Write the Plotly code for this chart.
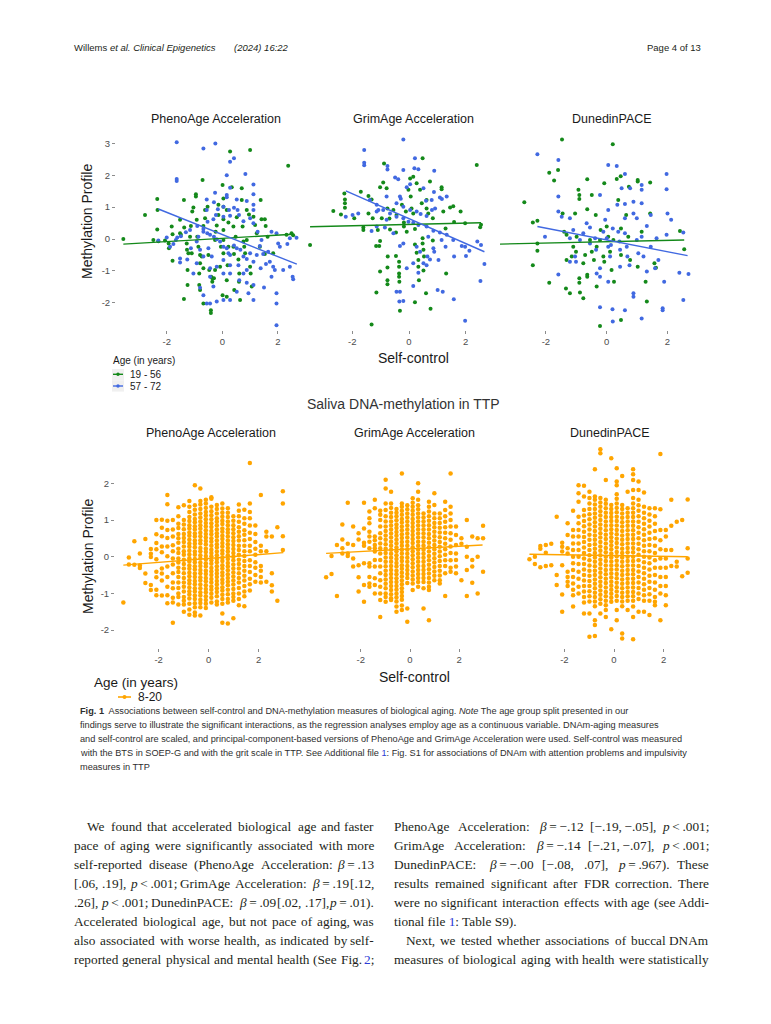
import re
import plotly.graph_objects as go

# page size in the screenshot and the browser's default body margin
PAGE_W, PAGE_H, OFF = 771, 1024, 8
W, H = PAGE_W - 2 * OFF, PAGE_H - 2 * OFF

# ---------------- DATA ----------------
panel_titles = ["PhenoAge Acceleration", "GrimAge Acceleration", "DunedinPACE"]
age_groups_top = ["19 - 56", "57 - 72"]
age_group_bottom = "8-20"
x_ticks = [-2, 0, 2]
y_ticks_top = [-2, -1, 0, 1, 2, 3]
y_ticks_bottom = [-2, -1, 0, 1, 2]

# SOEP-G, PhenoAge, (self-control, methylation)
pheno_young = [(-3.56,0.0),(-2.78,0.75),(-2.34,1.25),(-2.33,0.91),(-2.34,0.30),(-2.48,-0.03),(-2.30,-0.07),(-2.06,-0.05),(-1.93,-0.14),(-1.92,-0.29),(-1.82,0.39),(-1.79,0.15),(-1.79,-0.68),(-1.52,0.60),(-1.52,0.18),(-1.49,0.13),(-1.38,1.22),(-1.37,0.36),(-1.28,-0.14),(-1.27,-0.34),(-1.22,-0.45),(-1.25,-0.97),(-1.25,-1.44),(-1.38,-1.88),(-1.10,-0.45),(-1.16,0.07),(-1.13,0.41),(-1.08,0.86),(-1.04,0.99),(-0.95,1.40),(-0.95,1.33),(-0.92,0.60),(-0.90,0.07),(-0.86,-0.24),(-0.80,-0.50),(-0.80,-0.76),(-0.83,-1.08),(-0.83,-1.44),(-0.80,-1.60),(-0.74,-0.55),(-0.71,1.85),(-0.68,0.41),(-0.62,0.91),(-0.62,0.65),(-0.68,-0.92),(-0.68,-2.02),(-0.53,1.01),(-0.50,-0.50),(-0.47,-0.97),(-0.41,-2.23),(-0.41,-2.32),(-0.40,-1.18),(-0.36,-1.23),(-0.36,-1.34),(-0.30,-1.23),(-0.26,-0.97),(-0.26,-0.03),(-0.24,0.23),(-0.20,0.42),(-0.14,0.75),(-0.14,1.07),(-0.08,-0.87),(-0.05,-0.24),(0.01,1.69),(0.04,1.27),(0.04,1.01),(0.04,0.62),(0.04,0.28),(0.04,-0.03),(0.04,-0.45),(0.01,-1.76),(0.16,-1.81),(0.16,-1.29),(0.19,-0.82),(0.22,-0.24),(0.22,0.52),(0.16,0.91),(0.28,2.74),(0.34,1.62),(0.40,0.39),(0.40,-0.24),(0.42,-0.47),(0.43,-1.60),(0.48,0.07),(0.52,0.68),(0.58,-0.64),(0.60,-1.34),(0.61,-1.08),(0.64,-1.91),(0.70,1.22),(0.70,1.59),(0.73,0.39),(0.76,-0.08),(0.79,-0.24),(0.82,-0.45),(0.88,-0.03),(0.88,0.91),(1.0,2.79),(0.96,0.77),(1.0,-0.87),(1.02,-1.08),(1.06,-1.49),(1.12,0.70),(1.18,0.44),(1.24,0.18),(1.35,-0.24),(1.38,1.22),(1.41,0.62),(1.53,0.62),(1.56,0.41),(1.53,-0.47),(1.63,0.07),(1.83,-0.45),(2.31,0.13),(2.37,2.30),(2.49,0.18),(2.55,0.12)]
pheno_old = [(-2.3,-0.05),(-1.64,3.03),(-0.25,2.99),(-0.68,2.84),(0.28,2.42),(0.42,2.53),(0.83,2.04),(0.16,2.0),(-1.64,1.88),(-1.64,1.82),(0.28,1.61),(1.12,1.71),(0.16,1.38),(0.16,1.31),(0.52,1.24),(-0.26,1.45),(-0.56,1.24),(-0.30,1.15),(0.04,1.01),(-0.16,0.93),(0.24,0.91),(0.42,0.98),(0.55,0.91),(-0.56,0.91),(0.88,1.19),(1.12,1.40),(1.12,1.07),(1.12,0.91),(1.0,0.65),(0.76,0.56),(0.60,0.75),(0.28,0.73),(0.04,0.70),(-0.23,0.75),(-0.32,0.62),(-0.53,0.54),(-0.68,0.31),(-0.90,0.41),(-1.16,0.28),(-1.31,0.21),(-1.49,0.09),(-1.62,0.05),(-1.67,-0.03),(-1.76,-0.16),(-2.0,0.05),(-1.88,-0.24),(-1.52,-0.61),(-1.52,-0.74),(-1.26,-0.64),(-1.13,-0.29),(-0.92,-0.08),(-0.86,0.07),(-0.68,0.23),(-0.54,0.18),(-0.44,0.13),(-0.30,0.07),(-0.20,-0.01),(-0.08,-0.08),(0.04,-0.24),(0.16,-0.29),(0.22,-0.45),(0.28,-0.50),(0.42,-0.20),(0.52,-0.29),(0.65,-0.34),(0.76,-0.55),(0.88,-0.63),(1.0,-0.45),(1.12,-0.71),(1.24,-0.50),(1.35,-0.22),(1.47,-0.47),(1.57,-0.78),(1.71,-0.71),(1.83,-0.87),(1.89,-0.97),(1.95,0.18),(2.01,-0.14),(2.07,-0.24),(2.43,0.02),(2.67,0.04),(2.34,-0.16),(2.43,-0.87),(2.53,-1.18),(2.55,-1.26),(2.19,-0.97),(1.95,-1.70),(1.95,-2.02),(1.95,-2.70),(1.77,-1.18),(1.50,-1.52),(1.38,-0.92),(1.12,-1.44),(0.94,-1.70),(0.88,-1.37),(0.76,-1.08),(0.61,-1.29),(0.52,-1.65),(0.28,-1.91),(0.04,-1.91),(-0.20,-1.96),(-0.44,-2.02),(-0.56,-2.02),(-0.68,-1.76),(-0.80,-1.53),(-0.32,-1.49),(0.04,-1.08),(-0.20,-0.87),(-0.38,-0.55),(-0.50,-0.29),(-0.68,-0.55),(-0.80,-0.34),(-0.92,-0.76),(-1.04,-1.08),(-0.44,-1.18),(0.04,-0.66),(0.28,-0.82),(0.58,-0.82),(-0.44,-0.92),(1.12,-1.91),(0.28,-1.08),(0.88,-0.97),(1.77,0.23),(1.65,-0.40),(1.41,-0.03),(1.27,0.23),(1.12,0.49)]

grim_young = [(-3.49,-0.19),(-2.67,0.88),(-2.40,0.77),(-2.26,1.24),(-2.26,1.12),(-2.26,0.98),(-2.28,1.43),(-1.70,1.48),(-1.93,0.65),(-1.61,0.36),(-1.61,0.28),(-1.43,1.35),(-1.43,0.80),(-1.32,1.24),(-1.28,0.65),(-1.10,0.28),(-1.02,-0.06),(-1.05,-0.22),(-1.16,-0.22),(-0.88,2.37),(-1.02,1.62),(-0.91,1.77),(-0.79,1.59),(-0.76,0.96),(-0.69,0.64),(-0.67,0.30),(-0.75,-0.55),(-0.76,-0.89),(-0.76,-1.29),(-0.76,-1.42),(-1.02,-1.02),(-1.15,-1.68),(-1.32,-2.68),(-0.46,0.20),(-0.46,-0.53),(-0.35,-0.71),(-0.35,-0.87),(-0.35,-1.08),(-0.35,-1.18),(-0.34,-1.34),(-0.32,-2.25),(-0.25,1.07),(-0.18,0.52),(-0.18,0.39),(-0.08,0.23),(-0.02,1.54),(0.04,1.90),(0.06,1.33),(0.09,0.96),(0.15,0.80),(0.21,0.31),(0.21,-0.17),(0.27,-0.43),(0.33,-0.66),(0.33,-0.87),(0.35,-1.29),(0.21,-1.98),(0.48,2.53),(0.48,0.02),(0.48,-0.14),(0.51,-0.34),(0.53,-0.55),(0.51,-0.99),(0.60,-1.70),(0.62,1.22),(0.62,0.96),(0.68,0.80),(0.74,1.80),(0.84,0.65),(0.84,-0.05),(0.76,-2.19),(1.15,1.62),(1.15,1.56),(1.21,0.86),(1.29,0.33),(1.31,-1.08),(1.45,0.99),(1.56,1.03),(1.59,0.53),(1.82,0.86),(1.98,0.49),(2.39,2.32),(2.51,0.37),(2.54,0.45),(0.39,1.54),(0.27,1.75),(0.15,1.95),(0.45,1.12),(-0.11,0.86),(-0.44,0.75),(-0.96,0.65),(-0.55,0.91)]
grim_old = [(-2.23,0.7),(-0.2,3.12),(-1.58,2.79),(-1.58,2.39),(-1.58,2.31),(-0.76,2.29),(-0.76,2.18),(0.21,2.53),(0.19,2.22),(0.33,2.19),(0.89,2.14),(-0.2,2.16),(-0.49,1.93),(-0.38,1.87),(0.04,1.72),(-0.08,1.62),(0.51,1.59),(0.88,1.47),(1.09,1.30),(1.33,1.33),(1.16,1.25),(0.80,1.22),(0.60,1.20),(-0.32,1.33),(-0.29,1.26),(-0.79,1.33),(-1.14,1.07),(-1.38,1.22),(-0.91,0.91),(-1.14,0.86),(-1.08,0.91),(-1.99,0.75),(-1.79,0.80),(-0.44,1.12),(-0.2,1.01),(0.04,0.91),(0.27,0.86),(0.41,0.78),(0.62,0.72),(0.81,0.91),(0.92,0.96),(-0.67,0.80),(-0.44,0.70),(-0.2,0.65),(-0.02,0.54),(0.15,0.51),(0.33,0.44),(0.62,0.39),(0.86,0.26),(1.09,0.20),(1.33,0.13),(1.56,-0.03),(1.86,-0.22),(1.98,-0.24),(2.13,-0.37),(2.41,-0.08),(2.54,-0.19),(2.66,-0.78),(2.52,-1.32),(2.01,-0.53),(1.59,-0.55),(1.29,-0.24),(1.15,-0.03),(0.86,-0.29),(0.89,-0.40),(0.68,0.07),(0.65,-0.55),(0.74,-0.64),(0.51,-0.76),(0.62,-0.82),(0.33,-1.06),(-0.08,-0.92),(0.15,-0.76),(-0.32,-0.22),(-0.2,-0.14),(-0.44,-1.65),(-0.32,-1.65),(-0.34,-1.96),(-0.2,-1.94),(0.15,-1.47),(1.01,-1.60),(1.19,-1.65),(1.58,-1.89),(1.98,-2.56),(1.04,-0.66),(-0.79,0.60),(-0.55,0.18),(0.27,-0.24),(0.39,-0.40),(-1.14,0.39),(-1.32,0.25),(-0.85,0.36)]

dunedin_young = [(-3.53,-2.70),(-2.71,1.15),(-2.43,0.52),(-2.43,-0.82),(-2.28,0.57),(-2.28,-0.14),(-2.28,-0.37),(-1.89,2.08),(-1.73,1.83),(-1.60,2.16),(-1.47,3.12),(-1.89,-1.37),(-1.45,0.80),(-1.40,0.23),(-1.34,-1.55),(-1.21,-1.70),(-1.32,-0.66),(-1.15,-0.55),(-1.04,0.80),(-1.01,-0.40),(-0.93,1.54),(-0.90,1.38),(-0.90,1.25),(-0.90,-1.23),(-0.90,-1.37),(-0.88,-1.68),(-0.77,-1.86),(-0.77,-0.76),(-0.71,-0.50),(-0.64,1.87),(-0.64,0.93),(-0.64,-1.12),(-0.64,-1.18),(-0.49,1.38),(-0.49,-0.40),(-0.42,-0.66),(-0.36,0.75),(-0.33,-1.49),(-0.22,-2.73),(-0.20,0.28),(-0.08,1.75),(-0.11,-0.55),(-0.08,-0.71),(0.0,0.39),(0.05,0.07),(0.11,-0.40),(0.16,-0.97),(0.20,2.97),(0.24,-1.34),(0.33,1.88),(0.38,1.22),(0.46,1.97),(0.47,0.33),(0.47,-0.50),(0.47,-2.54),(0.64,0.75),(0.71,0.07),(0.73,1.64),(0.77,-0.66),(1.02,1.85),(1.02,1.80),(1.02,-0.87),(1.15,0.23),(1.28,-1.34),(1.32,-1.96),(1.43,1.77),(1.43,0.80),(1.57,-0.76),(1.62,-0.90),(2.41,0.25),(2.55,-0.32),(-1.32,0.13),(-1.10,-0.24),(-0.55,-0.03),(-0.22,-0.03),(0.22,-0.03),(-0.33,-0.24),(-0.99,0.07)]
dunedin_old = [(-2.28,2.66),(-1.59,2.48),(-1.59,1.33),(-1.59,0.86),(-1.59,-1.11),(-2.03,0.07),(-1.48,0.70),(-1.21,0.65),(-1.21,0.02),(-1.04,-0.55),(-1.01,-0.71),(-1.21,-0.71),(-0.77,0.18),(-0.66,0.49),(-0.55,0.36),(-0.38,0.02),(-0.35,-0.34),(-0.33,-1.08),(-0.22,1.38),(-0.22,-0.92),(-0.22,-1.18),(-0.22,-2.14),(-0.11,0.23),(-0.05,0.60),(0.0,0.02),(0.05,2.32),(0.05,0.91),(0.05,-0.24),(0.05,-1.34),(0.11,-0.55),(0.14,-0.19),(0.20,0.33),(0.19,-2.20),(0.20,-2.59),(0.33,2.29),(0.35,1.07),(0.38,0.23),(0.42,-0.08),(0.44,-0.87),(0.49,1.59),(0.60,2.04),(0.60,1.10),(0.60,0.65),(0.60,0.18),(0.66,-0.24),(0.68,-0.55),(0.75,-0.82),(0.60,-2.23),(0.77,1.59),(0.88,1.17),(0.88,0.80),(0.88,-1.70),(0.88,-1.81),(0.99,0.65),(0.99,-0.03),(1.04,-0.45),(1.15,1.69),(1.15,1.54),(1.15,1.12),(1.15,0.07),(1.15,-2.49),(1.21,-0.55),(1.32,-1.02),(1.45,0.75),(1.45,-0.24),(1.59,-0.92),(1.70,-0.66),(1.89,-1.34),(1.84,-2.17),(1.84,-2.23),(1.97,2.04),(1.97,1.56),(2.0,0.80),(2.12,0.60),(2.39,-1.06),(2.52,0.20),(2.52,-1.91),(2.69,-1.10),(1.97,0.13),(1.64,0.02),(1.32,0.41),(0.44,-0.34),(-0.55,-0.14),(-0.88,-0.03),(-1.10,0.28)]

# fitted regression lines (endpoints)
pheno_fit_young_x, pheno_fit_young_y = [-3.56, 2.55], [-0.16, 0.15]
pheno_fit_old_x, pheno_fit_old_y = [-2.30, 2.68], [0.94, -0.79]
grim_fit_young_x, grim_fit_young_y = [-3.49, 2.54], [0.385, 0.51]
grim_fit_old_x, grim_fit_old_y = [-2.23, 2.66], [1.51, -0.40]
dunedin_fit_young_x, dunedin_fit_young_y = [-3.53, 2.55], [-0.16, -0.03]
dunedin_fit_old_x, dunedin_fit_old_y = [-2.28, 2.66], [0.39, -0.52]

# TTP: discrete grit-scale levels (scaled) and methylation values per level
grit_levels = [-3.41, -3.19, -2.97, -2.75, -2.53, -2.31, -2.09, -1.87, -1.65, -1.43,
               -1.21, -0.99, -0.77, -0.55, -0.33, -0.11, 0.11, 0.33, 0.55, 0.77,
               0.99, 1.21, 1.43, 1.65, 1.87, 2.09, 2.31, 2.53, 2.75, 2.97]

ttp_pheno = [
 [-1.25],
 [-0.02, -0.21],
 [0.42, -0.22],
 [0.09, -0.24, -0.31],
 [0.48, -0.46, -0.72],
 [0.21, 0.08, -0.01, -0.77, -0.91],
 [1.0, 0.61, 0.37, 0.2, -0.07, -0.41, -0.56, -0.9, -1.05],
 [1.01, 0.79, 0.56, 0.28, 0.12, -0.32, -0.46, -0.65, -1.06],
 [1.68, 1.43, 0.98, 0.73, 0.51, 0.28, 0.01, -0.27, -0.55, -0.82, -1.05, -1.27],
 [1.0, 0.74, 0.55, 0.31, 0.15, -0.05, -0.21, -0.45, -0.7, -0.86, -1.12, -1.25, -1.8],
 [1.35, 1.1, 0.9, 0.78, 0.62, 0.5, 0.38, 0.22, 0.1, -0.05, -0.16, -0.3, -0.42, -0.55, -0.7, -0.85, -1.0, -1.1, -1.3],
 [1.4, 1.0, 0.88, 0.75, 0.62, 0.51, 0.4, 0.28, 0.15, 0.05, -0.08, -0.2, -0.32, -0.45, -0.58, -0.7, -0.82, -0.95, -1.1, -1.2, -1.3, -1.5],
 [1.52, 1.36, 1.22, 1.08, 0.97, 0.86, 0.77, 0.66, 0.57, 0.46, 0.36, 0.27, 0.16, 0.06, -0.04, -0.13, -0.24, -0.33, -0.44, -0.53, -0.64, -0.73, -0.84, -0.94, -1.03, -1.14, -1.28, -1.44, -1.58],
 [1.95, 1.4, 1.28, 1.15, 1.03, 0.94, 0.83, 0.74, 0.63, 0.55, 0.44, 0.35, 0.26, 0.14, 0.05, -0.06, -0.15, -0.26, -0.35, -0.46, -0.55, -0.66, -0.75, -0.86, -0.95, -1.06, -1.15, -1.27, -1.38, -1.52, -1.6],
 [1.86, 1.52, 1.42, 1.3, 1.18, 1.07, 0.96, 0.86, 0.76, 0.65, 0.56, 0.45, 0.36, 0.24, 0.15, 0.04, -0.05, -0.16, -0.25, -0.36, -0.45, -0.56, -0.65, -0.76, -0.86, -0.97, -1.06, -1.17, -1.26, -1.38, -1.6],
 [1.55, 1.45, 1.33, 1.22, 1.12, 1.02, 0.92, 0.82, 0.72, 0.62, 0.52, 0.43, 0.33, 0.22, 0.13, 0.02, -0.07, -0.18, -0.27, -0.38, -0.47, -0.58, -0.67, -0.78, -0.88, -0.97, -1.08, -1.18, -1.28, -1.4],
 [1.62, 1.58, 1.36, 1.24, 1.13, 1.02, 0.91, 0.81, 0.7, 0.61, 0.5, 0.41, 0.3, 0.19, 0.1, 0.01, -0.1, -0.19, -0.31, -0.4, -0.5, -0.61, -0.7, -0.81, -0.9, -1.01, -1.12, -1.25],
 [1.41, 1.3, 1.18, 1.05, 0.95, 0.85, 0.74, 0.64, 0.55, 0.44, 0.34, 0.25, 0.14, 0.04, -0.06, -0.15, -0.26, -0.36, -0.46, -0.55, -0.66, -0.76, -0.86, -0.96, -1.08, -1.22, -1.3],
 [1.45, 1.31, 1.2, 1.09, 0.98, 0.89, 0.77, 0.68, 0.57, 0.48, 0.37, 0.28, 0.17, 0.08, -0.03, -0.12, -0.23, -0.32, -0.43, -0.52, -0.63, -0.72, -0.83, -0.92, -1.04, -1.15, -1.28, -1.55, -1.8],
 [1.32, 1.2, 1.08, 0.96, 0.86, 0.75, 0.65, 0.55, 0.44, 0.34, 0.24, 0.14, 0.04, -0.06, -0.17, -0.27, -0.37, -0.48, -0.58, -0.68, -0.78, -0.9, -1.02, -1.15, -1.25, -1.82],
 [1.1, 0.98, 0.86, 0.75, 0.64, 0.53, 0.43, 0.32, 0.21, 0.1, 0.0, -0.1, -0.21, -0.32, -0.43, -0.54, -0.65, -0.76, -0.88, -1.0, -1.1, -1.2, -1.68],
 [1.42, 1.25, 1.1, 0.95, 0.8, 0.68, 0.56, 0.44, 0.3, 0.18, 0.05, -0.08, -0.2, -0.32, -0.45, -0.58, -0.7, -0.85, -1.0, -1.15, -1.32],
 [1.28, 1.05, 0.9, 0.72, 0.6, 0.45, 0.3, 0.15, 0.02, -0.12, -0.25, -0.38, -0.52, -0.65, -0.8, -0.95, -1.08, -1.35],
 [2.55, 1.45, 1.22, 1.05, 0.85, 0.65, 0.48, 0.3, 0.15, -0.1, -0.25, -0.42, -0.6, -0.75, -0.92],
 [0.85, 0.62, 0.4, 0.22, 0.05, -0.15, -0.3, -0.5, -0.68],
 [1.68, 0.3, 0.15, -0.25, -0.38, -0.55, -0.7],
 [0.68, 0.55, 0.15, -0.68],
 [0.55, -0.45, -0.78, -0.95],
 [0.8, -1.2],
 [1.78, 1.45, 0.56, 0.18],
]

ttp_grim = [
 [-0.56],
 [0.02, -0.47],
 [0.32, -1.07],
 [0.88, 0.47, 0.23, 0.09],
 [1.47, 0.35, 0.09, 0.02],
 [0.82, 0.32, -0.05, -0.27],
 [0.64, 0.47, -0.23, -0.56, -0.95],
 [1.47, 0.77, 0.38, 0.3, -0.18, -0.77, -1.23],
 [1.23, 1.05, 0.91, 0.68, 0.55, 0.41, 0.23, -0.18, -0.27, -0.55, -0.73, -0.82],
 [1.55, 1.32, 0.55, 0.45, 0.32, 0.23, 0.14, -0.09, -0.27, -0.59, -0.77, -1.0],
 [1.25, 1.14, 1.0, 0.82, 0.64, 0.5, 0.36, 0.23, 0.09, -0.09, -0.27, -0.45, -0.64, -0.82, -1.0, -1.18, -1.64],
 [2.1, 1.86, 1.45, 1.27, 1.1, 0.96, 0.82, 0.7, 0.58, 0.46, 0.34, 0.22, 0.1, -0.02, -0.14, -0.26, -0.38, -0.5, -0.62, -0.74, -0.86, -1.0, -1.1, -1.23],
 [1.77, 1.45, 1.33, 1.2, 1.08, 0.96, 0.85, 0.74, 0.63, 0.52, 0.41, 0.3, 0.19, 0.08, -0.03, -0.14, -0.25, -0.36, -0.47, -0.58, -0.69, -0.8, -0.91, -1.02, -1.13, -1.18],
 [1.3, 1.2, 1.1, 0.99, 0.88, 0.78, 0.67, 0.57, 0.46, 0.36, 0.25, 0.15, 0.04, -0.06, -0.17, -0.27, -0.38, -0.48, -0.59, -0.69, -0.8, -0.9, -1.01, -1.11, -1.22, -1.36, -1.5],
 [2.27, 1.45, 1.36, 1.25, 1.14, 1.03, 0.93, 0.82, 0.72, 0.61, 0.51, 0.4, 0.3, 0.19, 0.09, -0.02, -0.12, -0.23, -0.33, -0.44, -0.54, -0.65, -0.75, -0.86, -0.96, -1.07, -1.17, -1.33, -1.45],
 [1.4, 1.29, 1.18, 1.07, 0.96, 0.85, 0.74, 0.63, 0.52, 0.41, 0.3, 0.19, 0.08, -0.03, -0.14, -0.25, -0.36, -0.47, -0.58, -0.72, -1.41, -1.77],
 [1.59, 1.47, 1.36, 1.25, 1.14, 1.03, 0.92, 0.81, 0.7, 0.59, 0.48, 0.37, 0.26, 0.15, 0.04, -0.07, -0.18, -0.29, -0.4, -0.51, -0.62, -0.73, -0.91],
 [2.0, 1.77, 1.55, 1.4, 1.29, 1.18, 1.07, 0.96, 0.85, 0.74, 0.63, 0.52, 0.41, 0.3, 0.19, 0.08, -0.03, -0.14, -0.25, -0.36, -0.47, -0.58, -0.69, -0.82],
 [1.18, 1.07, 0.96, 0.85, 0.74, 0.63, 0.52, 0.41, 0.3, 0.19, 0.08, -0.03, -0.14, -0.25, -0.36, -0.47, -0.58, -0.69, -0.86, -1.41],
 [1.5, 1.36, 1.23, 1.1, 0.98, 0.86, 0.74, 0.62, 0.5, 0.38, 0.26, 0.14, 0.02, -0.1, -0.22, -0.34, -0.46, -0.58, -0.7, -0.82, -0.91, -1.73],
 [1.73, 1.41, 1.18, 1.05, 0.92, 0.8, 0.68, 0.56, 0.44, 0.32, 0.2, 0.08, -0.04, -0.16, -0.28, -0.4, -0.52, -0.64],
 [1.18, 1.05, 0.92, 0.79, 0.66, 0.53, 0.4, 0.27, 0.14, 0.01, -0.12, -0.25, -0.38, -0.51, -0.64, -0.73],
 [1.5, 1.27, 1.1, 0.95, 0.8, 0.65, 0.5, 0.35, 0.2, 0.05, -0.1, -0.25, -0.45, -1.07],
 [2.27, 1.36, 1.18, 1.0, 0.82, 0.64, 0.46, 0.28, 0.1, -0.1, -0.3, -0.41],
 [0.82, 0.59, 0.32, 0.09, -0.09, -0.27, -0.45],
 [0.5, 0.35, -0.64],
 [1.0, 0.27, 0.0, -0.36, -1.07],
 [0.55, -0.09, -0.27, -0.71],
 [0.5, 0.0, -1.0],
 [0.84, 0.5, -0.41],
]

ttp_dunedin = [
 [-0.07],
 [0.0, -0.2],
 [0.29, -0.29, 0.22],
 [0.32, 0.11, -0.25],
 [0.35, -0.23],
 [1.09, -0.5, -0.77],
 [0.38, 0.27, 0.14, -0.23, -1.03, -1.5],
 [0.91, 0.59, 0.23, 0.09, -0.41, -0.55, -0.68, -0.8],
 [1.25, 0.73, 0.55, 0.36, 0.18, 0.0, -0.18, -0.36, -0.55, -0.73, -0.9, -1.05, -1.36],
 [1.95, 1.73, 1.5, 1.09, 0.91, 0.73, 0.55, 0.36, 0.18, 0.0, -0.2, -0.41, -0.6, -0.82, -1.0],
 [1.93, 1.64, 1.27, 1.12, 0.97, 0.83, 0.68, 0.54, 0.4, 0.25, 0.1, -0.05, -0.2, -0.35, -0.5, -0.65, -0.8, -0.95, -1.1, -1.25, -1.55],
 [1.77, 1.6, 1.45, 1.3, 1.16, 1.02, 0.88, 0.74, 0.6, 0.46, 0.32, 0.18, 0.04, -0.1, -0.24, -0.38, -0.52, -0.66, -0.8, -0.94, -1.08, -1.22, -1.55, -2.18],
 [2.38, 1.64, 1.55, 1.42, 1.3, 1.18, 1.06, 0.94, 0.82, 0.7, 0.58, 0.46, 0.34, 0.22, 0.1, -0.02, -0.14, -0.26, -0.38, -0.5, -0.62, -0.74, -0.86, -0.98, -1.1, -1.22, -1.35, -1.73, -1.86, -2.16],
 [2.93, 2.82, 1.6, 1.48, 1.36, 1.24, 1.12, 1.0, 0.88, 0.76, 0.64, 0.52, 0.4, 0.28, 0.16, 0.04, -0.08, -0.2, -0.32, -0.44, -0.56, -0.68, -0.8, -0.92, -1.04, -1.16, -1.28, -1.55],
 [2.09, 1.55, 1.44, 1.32, 1.2, 1.08, 0.96, 0.84, 0.72, 0.6, 0.48, 0.36, 0.24, 0.12, 0.0, -0.12, -0.24, -0.36, -0.48, -0.6, -0.72, -0.84, -0.96, -1.08, -1.2, -1.32, -1.45, -1.64],
 [2.68, 1.41, 1.3, 1.19, 1.08, 0.97, 0.86, 0.75, 0.64, 0.53, 0.42, 0.31, 0.2, 0.09, -0.02, -0.13, -0.24, -0.35, -0.46, -0.57, -0.68, -0.79, -0.9, -1.01, -1.12, -1.23, -1.98],
 [2.41, 2.05, 1.95, 1.7, 1.58, 1.45, 1.33, 1.21, 1.09, 0.97, 0.85, 0.73, 0.61, 0.49, 0.37, 0.25, 0.13, 0.01, -0.11, -0.23, -0.35, -0.47, -0.59, -0.71, -0.83, -0.95, -1.07, -1.2, -1.45, -1.73],
 [2.2, 1.41, 1.3, 1.18, 1.06, 0.94, 0.82, 0.7, 0.58, 0.46, 0.34, 0.22, 0.1, -0.02, -0.14, -0.26, -0.38, -0.5, -0.62, -0.74, -0.86, -0.98, -1.1, -1.22, -1.35, -2.09, -2.23],
 [1.77, 1.32, 1.2, 1.08, 0.96, 0.84, 0.72, 0.6, 0.48, 0.36, 0.24, 0.12, 0.0, -0.12, -0.24, -0.36, -0.48, -0.6, -0.72, -0.84, -0.96, -1.08, -1.2, -1.45],
 [2.38, 2.25, 2.09, 1.82, 1.6, 1.45, 1.32, 1.2, 1.08, 0.96, 0.84, 0.72, 0.6, 0.48, 0.36, 0.24, 0.12, 0.0, -0.12, -0.24, -0.36, -0.48, -0.6, -0.72, -0.84, -0.96, -1.08, -1.2, -1.36, -1.64, -2.25],
 [2.05, 1.82, 1.55, 1.4, 1.25, 1.1, 0.95, 0.8, 0.65, 0.5, 0.35, 0.2, 0.05, -0.1, -0.25, -0.4, -0.55, -0.7, -0.85, -1.0, -1.15, -1.5],
 [1.75, 1.36, 1.2, 1.05, 0.9, 0.75, 0.6, 0.45, 0.3, 0.15, 0.0, -0.15, -0.3, -0.45, -0.6, -0.75, -0.9, -1.05, -1.2, -1.5],
 [1.32, 1.15, 0.98, 0.82, 0.65, 0.48, 0.32, 0.15, -0.02, -0.18, -0.35, -0.52, -0.68, -0.85, -1.02, -1.2, -1.59],
 [1.32, 1.1, 0.9, 0.7, 0.5, 0.3, 0.1, -0.1, -0.3, -0.5, -0.7, -0.9, -1.1, -1.23, -1.32],
 [2.8, 1.29, 0.73, 0.45, 0.2, -0.05, -0.3, -0.55, -0.8, -1.0, -1.73],
 [0.73, 0.55, 0.18, -0.05, -0.3, -0.55, -0.8, -1.05, -1.32],
 [1.55, 0.84, 0.18, -0.25],
 [0.95, -0.14, -0.27],
 [1.0, -0.53],
 [1.56, 0.23, -0.05, -0.44],
]

ttp_fit_x = [[-3.41, 2.99], [-3.41, 2.95], [-3.41, 2.97]]
ttp_fit_y = [[-0.23, 0.11], [0.09, 0.32], [0.065, 0.0]]

# ---------------- STYLE ----------------
GREEN = "#14891a"
BLUE = "#4169e1"
ORANGE = "#ffa500"
LINK = "#2b3bd6"
SANS = "Liberation Sans, Arial, sans-serif"
SERIF = "Liberation Serif, Times New Roman, serif"
TICK_COL = "#4d4d4d"

def fx(px):
    return (px - OFF) / W

def fy(py):
    return 1 - (py - OFF) / H

fig = go.Figure()

# panel geometry in page pixels: (left, right, zero, px per unit)
top_x = [(116, 308, 222.3, 27.8), (308, 500, 409.0, 28.35), (500, 700, 606.7, 30.4)]
top_y = (128, 330, 239.0, 31.9)
bot_x = [(115, 300, 208.6, 25.0), (310, 505, 410.0, 24.6), (515, 700, 614.0, 24.8)]
bot_y = (445, 648, 556.7, 36.7)

layout_axes = {}

def add_axes(idx, xg, yg, yticks, show_y):
    l, r, z, s = xg
    t, b, zy, sy = yg
    xr = [(l - z) / s, (r - z) / s]
    yr = [(zy - b) / sy, (zy - t) / sy]
    layout_axes["xaxis%d" % idx] = dict(
        domain=[fx(l), fx(r)], range=xr, anchor="y%d" % idx,
        showgrid=False, zeroline=False, showline=False,
        tickvals=x_ticks, ticktext=[str(v) for v in x_ticks],
        ticks="outside", ticklen=3, tickwidth=0.6, tickcolor="#8c8c8c",
        tickfont=dict(family=SANS, size=9.5, color=TICK_COL), fixedrange=True)
    layout_axes["yaxis%d" % idx] = dict(
        domain=[fy(b), fy(t)], range=yr, anchor="x%d" % idx,
        showgrid=False, zeroline=False, showline=False,
        tickvals=yticks, ticktext=[str(v) for v in yticks],
        showticklabels=show_y, ticks="outside" if show_y else "",
        ticklen=3, tickwidth=0.6, tickcolor="#8c8c8c",
        tickfont=dict(family=SANS, size=9.5, color=TICK_COL), fixedrange=True)

for i in range(3):
    add_axes(i + 1, top_x[i], top_y, y_ticks_top, i == 0)
    add_axes(i + 4, bot_x[i], bot_y, y_ticks_bottom, i == 0)

def scatter(pts, color, ax):
    fig.add_trace(go.Scatter(
        x=[p[0] for p in pts], y=[p[1] for p in pts], mode="markers",
        marker=dict(color=color, size=4, line=dict(width=0)),
        xaxis="x%d" % ax, yaxis="y%d" % ax, cliponaxis=False, hoverinfo="skip"))

def line(xs, ys, color, ax):
    fig.add_trace(go.Scatter(
        x=xs, y=ys, mode="lines", line=dict(color=color, width=1.4),
        xaxis="x%d" % ax, yaxis="y%d" % ax, cliponaxis=False, hoverinfo="skip"))

tops = [(pheno_young, pheno_old, pheno_fit_young_x, pheno_fit_young_y, pheno_fit_old_x, pheno_fit_old_y),
        (grim_young, grim_old, grim_fit_young_x, grim_fit_young_y, grim_fit_old_x, grim_fit_old_y),
        (dunedin_young, dunedin_old, dunedin_fit_young_x, dunedin_fit_young_y, dunedin_fit_old_x, dunedin_fit_old_y)]
for i, (yg, og, fyx, fyy, fox, foy) in enumerate(tops):
    scatter(yg, GREEN, i + 1)
    scatter(og, BLUE, i + 1)
    line(fyx, fyy, GREEN, i + 1)
    line(fox, foy, BLUE, i + 1)

for i, cols in enumerate([ttp_pheno, ttp_grim, ttp_dunedin]):
    xs, ys = [], []
    for lvl, vals in zip(grit_levels, cols):
        xs += [lvl] * len(vals)
        ys += vals
    fig.add_trace(go.Scatter(
        x=xs, y=ys, mode="markers", marker=dict(color=ORANGE, size=4.5, line=dict(width=0)),
        xaxis="x%d" % (i + 4), yaxis="y%d" % (i + 4), cliponaxis=False, hoverinfo="skip"))
    line(ttp_fit_x[i], ttp_fit_y[i], ORANGE, i + 4)

ann = []
def text(x, y, s, size, color="#000000", family=SANS, xanchor="left", angle=0):
    ann.append(dict(x=fx(x), y=fy(y), xref="paper", yref="paper", text=s, showarrow=False,
                    xanchor=xanchor, yanchor="middle", textangle=angle,
                    font=dict(size=size, color=color, family=family), borderpad=0))

# page header
HDR = "#231f20"
text(73, 48, "Willems <i>et al. Clinical Epigenetics</i>", 9.5, HDR, SANS)
text(233, 48, "<i>(2024) 16:22</i>", 9.5, HDR, SANS)
text(702, 48, "Page 4 of 13", 9.5, HDR, SANS, xanchor="right")

# panel titles
title_x_top = [216, 413, 612]
title_x_bot = [211, 414, 610]
for i in range(3):
    text(title_x_top[i], 119, panel_titles[i], 12.5, "#1a1a1a", SANS, "center")
    text(title_x_bot[i], 433, panel_titles[i], 12.5, "#1a1a1a", SANS, "center")

text(87, 222, "Methylation Profile", 14, "#1a1a1a", SANS, "center", -90)
text(88, 557, "Methylation Profile", 14, "#1a1a1a", SANS, "center", -90)
text(413, 358, "Self-control", 14, "#1a1a1a", SANS, "center")
text(414, 677, "Self-control", 14, "#1a1a1a", SANS, "center")
text(403, 404, "Saliva DNA-methylation in TTP", 14, "#333333", SANS, "center")

# legends
text(112, 360.5, "Age (in years)", 10, "#1a1a1a", SANS)
text(129, 374.3, age_groups_top[0], 10, "#1a1a1a", SANS)
text(129, 386, age_groups_top[1], 10, "#1a1a1a", SANS)
text(93, 682, "Age (in years)", 13.5, "#1a1a1a", SANS)
text(137, 697, age_group_bottom, 12, "#1a1a1a", SANS)

shapes = []
def rect(x0, y0, x1, y1, color):
    shapes.append(dict(type="rect", xref="paper", yref="paper", x0=fx(x0), x1=fx(x1),
                       y0=fy(y1), y1=fy(y0), fillcolor=color, line=dict(width=0), layer="below"))
def seg(x0, y0, x1, y1, color, w):
    shapes.append(dict(type="line", xref="paper", yref="paper", x0=fx(x0), x1=fx(x1),
                       y0=fy(y0), y1=fy(y1), line=dict(color=color, width=w)))
def dot(x, y, r, color):
    shapes.append(dict(type="circle", xref="paper", yref="paper", x0=fx(x - r), x1=fx(x + r),
                       y0=fy(y + r), y1=fy(y - r), fillcolor=color, line=dict(width=0)))

rect(112, 369, 124, 380.3, "#f0f0f0")
rect(112, 380.3, 124, 391.6, "#f0f0f0")
seg(113, 374.3, 123, 374.3, GREEN, 1.4)
dot(118, 374.3, 1.7, GREEN)
seg(113, 386, 123, 386, BLUE, 1.4)
dot(118, 386, 1.7, BLUE)
seg(118, 697, 131, 697, ORANGE, 1.6)
dot(124.5, 697, 2.0, ORANGE)

# caption (ragged right)
CAP = "#2e2e2e"
cap_lines = [
    "<b>Fig. 1</b>  Associations between self-control and DNA-methylation measures of biological aging. <i>Note</i> The age group split presented in our",
    "findings serve to illustrate the significant interactions, as the regression analyses employ age as a continuous variable. DNAm-aging measures",
    "and self-control are scaled, and principal-component-based versions of PhenoAge and GrimAge Acceleration were used. Self-control was measured",
    "with the BTS in SOEP-G and with the grit scale in TTP. See Additional file <span style='color:%s'>1</span>: Fig. S1 for associations of DNAm with attention problems and impulsivity" % LINK,
    "measures in TTP",
]
for k, s in enumerate(cap_lines):
    text(79, 711 + 14 * k, s, 9.2, CAP, SANS)

# body text, justified word by word using Times-like advance widths
TW = {' ': .25, 'a': .444, 'b': .5, 'c': .444, 'd': .5, 'e': .444, 'f': .333, 'g': .5, 'h': .5,
      'i': .278, 'j': .278, 'k': .5, 'l': .278, 'm': .778, 'n': .5, 'o': .5, 'p': .5, 'q': .5,
      'r': .333, 's': .389, 't': .278, 'u': .5, 'v': .5, 'w': .722, 'x': .5, 'y': .5, 'z': .444,
      'A': .722, 'B': .667, 'C': .667, 'D': .722, 'E': .611, 'F': .556, 'G': .722, 'H': .722,
      'I': .333, 'J': .389, 'K': .722, 'L': .611, 'M': .889, 'N': .722, 'O': .722, 'P': .556,
      'Q': .722, 'R': .667, 'S': .556, 'T': .611, 'U': .722, 'V': .722, 'W': .944, 'X': .722,
      'Y': .722, 'Z': .611, '.': .25, ',': .25, ':': .278, ';': .278, '(': .333, ')': .333,
      '[': .333, ']': .333, '-': .333, '=': .564, '<': .564, '−': .564, 'β': .5, '\u2009': .167}
WIDTH_FUDGE = 1.025

def text_width(s, size):
    plain = re.sub(r"<[^>]+>", "", s)
    return sum(TW.get(c, .5) for c in plain) * size * WIDTH_FUDGE

BODY = "#231f20"
BODY_SIZE = 13.3
T = "\u2009"

def split_words(s):
    # split on spaces that are not inside an HTML tag
    return re.split(r" (?![^<]*>)", s)

def body_line(s, x0, x1, y, justify):
    if not justify:
        text(x0, y, s, BODY_SIZE, BODY, SERIF)
        return
    words = split_words(s)
    widths = [text_width(w, BODY_SIZE) for w in words]
    gap = (x1 - x0 - sum(widths)) / (len(words) - 1)
    x = x0
    for k, (w, wd) in enumerate(zip(words, widths)):
        if k == len(words) - 1:
            text(x1, y, w, BODY_SIZE, BODY, SERIF, xanchor="right")
        else:
            text(x, y, w, BODY_SIZE, BODY, SERIF)
        x += wd + gap

left_lines = [
    "We found that accelerated biological age and faster",
    "pace of aging were significantly associated with more",
    "self-reported disease (PhenoAge Acceleration: <i>β</i>" + T + "=" + T + ".13",
    "[.06, .19], <i>p</i>" + T + "<" + T + ".001; GrimAge Acceleration: <i>β</i>" + T + "=" + T + ".19 [.12,",
    ".26], <i>p</i>" + T + "<" + T + ".001; DunedinPACE: <i>β</i>" + T + "=" + T + ".09 [.02, .17], <i>p</i>" + T + "=" + T + ".01).",
    "Accelerated biological age, but not pace of aging, was",
    "also associated with worse health, as indicated by self-",
    "reported general physical and mental health (See Fig. <span style='color:%s'>2</span>;" % LINK,
]
right_lines = [
    "PhenoAge Acceleration: <i>β</i>" + T + "=" + T + "−.12 [−.19," + T + "−.05], <i>p</i>" + T + "<" + T + ".001;",
    "GrimAge Acceleration: <i>β</i>" + T + "=" + T + "−.14 [−.21," + T + "−.07], <i>p</i>" + T + "<" + T + ".001;",
    "DunedinPACE: <i>β</i>" + T + "=" + T + "−.00 [−.08, .07], <i>p</i>" + T + "=" + T + ".967). These",
    "results remained significant after FDR correction. There",
    "were no significant interaction effects with age (see Addi-",
    "tional file <span style='color:%s'>1</span>: Table S9)." % LINK,
    "Next, we tested whether associations of buccal DNAm",
    "measures of biological aging with health were statistically",
]
LINE0, LSTEP = 826, 19.0
for k, s in enumerate(left_lines):
    body_line(s, 86 if k == 0 else 73, 375, LINE0 + LSTEP * k, True)
for k, s in enumerate(right_lines):
    body_line(s, 405 if k == 6 else 393, 710, LINE0 + LSTEP * k, k != 5)

fig.update_layout(width=W, height=H, margin=dict(l=0, r=0, t=0, b=0),
                  paper_bgcolor="white", plot_bgcolor="white", showlegend=False,
                  annotations=ann, shapes=shapes, **layout_axes)

fig.write_html("out.html")
